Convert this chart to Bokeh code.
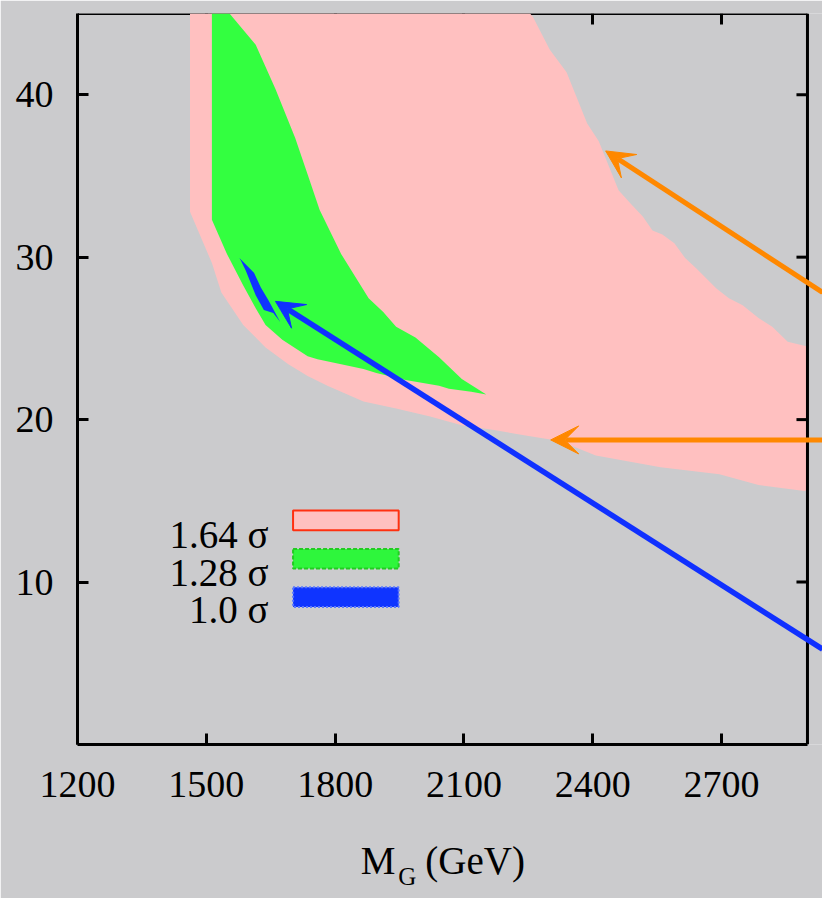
import math
from bokeh.plotting import figure
from bokeh.models import FixedTicker, LinearAxis, Range1d, Arrow, VeeHead
from bokeh.core.properties import value
from bokeh.embed import file_html
from bokeh.resources import INLINE

# ---------------- data ----------------
x_ticks = [1200, 1500, 1800, 2100, 2400, 2700]
y_ticks = [10, 20, 30, 40]
x_min, x_frame_max, x_view_max = 1200, 2900, 2935
y_min, y_max = 0, 45

# 1.64 sigma region (M_G, y)
sig164_x = [1462, 2254, 2261, 2300, 2339, 2387, 2414, 2460, 2489, 2517, 2539, 2562, 2590,
            2615, 2642, 2688, 2717, 2749, 2786, 2818, 2854, 2900, 2900,
            2893, 2786, 2695, 2558, 2407, 2323, 2247, 2170, 2095, 2019, 1942, 1866,
            1782, 1736, 1691, 1638, 1586, 1535, 1513, 1462]
sig164_y = [45.0, 45.0, 44.77, 42.77, 41.38, 38.23, 37.14, 34.12, 33.27, 32.49, 31.64, 31.40, 30.85,
            29.95, 29.28, 28.07, 27.47, 27.04, 26.26, 25.72, 24.80, 24.50, 15.67,
            15.61, 15.97, 16.64, 17.06, 17.79, 18.69, 19.00, 19.36, 19.66, 20.21, 20.69, 21.11,
            22.08, 22.69, 23.41, 24.44, 25.83, 27.83, 29.64, 32.79]

# 1.28 sigma region
sig128_x = [1513, 1554, 1615, 1661, 1707, 1736, 1764, 1814, 1878, 1912, 1942, 1987, 2042, 2095, 2152,
            2117, 2065, 2042, 1964, 1896, 1866, 1814, 1759, 1736, 1677, 1638, 1615, 1586, 1547, 1513]
sig128_y = [45.0, 45.0, 43.07, 40.35, 37.33, 35.09, 32.91, 30.19, 27.47, 26.62, 25.71, 25.05, 23.84, 22.50, 21.54,
            21.72, 21.90, 22.08, 22.44, 22.87, 23.11, 23.41, 23.71, 23.90, 24.92, 25.83, 26.86, 28.25, 30.25, 32.30]

# 1.0 sigma region
sig100_x = [1577, 1611, 1627, 1645, 1672, 1656, 1634, 1615, 1592, 1581]
sig100_y = [29.95, 29.04, 28.13, 27.34, 26.01, 26.56, 26.74, 27.65, 29.16, 29.76]

legend_labels = ["1.64 \u03c3", "1.28 \u03c3", "1.0 \u03c3"]

# x-axis title pieces: "M" + subscript "G" + "(GeV)"
title_main = {1900: "M", 2126: "(GeV)"}
title_sub = {1968: "G"}

# annotation arrows: (x_start, y_start, x_end, y_end)
arrow_orange_1 = [2935, 27.83, 2430, 36.54]
arrow_orange_2 = [2935, 18.75, 2302, 18.75]
arrow_blue = [2935, 5.87, 1661, 27.28]

# ---------------- style ----------------
BG = "#cbcbcd"
PINK = "#ffc0c0"
GREEN = "#33ff40"
BLUE = "#0f34ff"
ORANGE = "#ff8800"
FONT = "Liberation Serif"

p = figure(width=822, height=898, x_range=Range1d(x_min, x_view_max), y_range=Range1d(y_min, y_max),
           output_backend="svg", toolbar_location=None,
           min_border_left=77, min_border_right=0, min_border_top=13, min_border_bottom=154,
           background_fill_color=BG, border_fill_color=BG, outline_line_color=None)
p.xgrid.visible = False
p.ygrid.visible = False

p.patch(sig164_x, sig164_y, fill_color=PINK, line_color=None)
p.patch(sig128_x, sig128_y, fill_color=GREEN, line_color=None)
p.patch(sig100_x, sig100_y, fill_color=BLUE, line_color=None)


def style_axis(ax, show_labels=True):
    ax.axis_line_width = 3
    ax.axis_line_color = "black"
    ax.major_tick_line_width = 3
    ax.major_tick_line_color = "black"
    ax.major_tick_in = 11
    ax.major_tick_out = 0
    ax.minor_tick_line_color = None
    ax.major_label_text_font = FONT
    if show_labels:
        ax.major_label_text_font_size = "38px"
        ax.major_label_text_color = "black"
    else:
        ax.major_label_text_font_size = "1px"
        ax.major_label_text_color = None
        ax.major_label_standoff = 0


p.xaxis.ticker = FixedTicker(ticks=x_ticks)
p.yaxis.ticker = FixedTicker(ticks=y_ticks)
style_axis(p.xaxis[0])
style_axis(p.yaxis[0])
p.xaxis.bounds = (x_min, x_frame_max)
p.xaxis.major_label_standoff = 27
p.yaxis.major_label_standoff = 24

top_ax = LinearAxis(ticker=FixedTicker(ticks=x_ticks), bounds=(x_min, x_frame_max))
style_axis(top_ax, False)
top_ax.level = "underlay"
p.add_layout(top_ax, "above")


def title_axis(labels, size, standoff):
    ax = LinearAxis(ticker=FixedTicker(ticks=list(labels.keys())), major_label_overrides=labels)
    ax.axis_line_color = None
    ax.major_tick_line_color = None
    ax.minor_tick_line_color = None
    ax.major_tick_in = 0
    ax.major_tick_out = 0
    ax.major_label_text_font = FONT
    ax.major_label_text_font_size = size
    ax.major_label_text_color = "black"
    ax.major_label_standoff = standoff
    return ax


p.add_layout(title_axis(title_main, "39px", 39), "below")
p.add_layout(title_axis(title_sub, "25px", -22), "below")

# right frame edge with inward ticks
p.segment(x0=[x_frame_max], y0=[y_min], x1=[x_frame_max], y1=[y_max], line_color="black", line_width=3)
p.ray(x=[x_frame_max] * len(y_ticks), y=y_ticks, length=11, length_units="screen", angle=math.pi,
      line_color="black", line_width=3)

# legend (drawn manually: labels left of swatches)
leg_left, leg_right = 1702, 1948
leg_tops = [14.40, 12.04, 9.68]
leg_bots = [13.19, 10.83, 8.47]
leg_text_y = [12.95, 10.59, 8.29]
p.quad(left=leg_left, right=leg_right, top=leg_tops[0], bottom=leg_bots[0],
       fill_color=PINK, line_color="#ff3010", line_width=2)
p.quad(left=leg_left, right=leg_right, top=leg_tops[1], bottom=leg_bots[1],
       fill_color="#2ef63c", line_color="#22cc22", line_width=2, line_dash="4 2")
p.quad(left=leg_left, right=leg_right, top=leg_tops[2], bottom=leg_bots[2],
       fill_color=BLUE, line_color="#5a78ff", line_width=2, line_dash="2 2")
p.text(x=[1645] * 3, y=leg_text_y, text=legend_labels, text_font=value(FONT),
       text_font_size=value("39px"), text_align="right", text_baseline="alphabetic",
       text_color="black")

# arrows
for arr, col, lw in [(arrow_orange_1, ORANGE, 5), (arrow_orange_2, ORANGE, 5), (arrow_blue, "#1030ff", 5.5)]:
    p.add_layout(Arrow(x_start=arr[0], y_start=arr[1], x_end=arr[2], y_end=arr[3],
                       line_color=col, line_width=lw,
                       end=VeeHead(size=28, fill_color=col, line_color=col, line_width=1)))

open("out.html", "w").write(file_html(p, INLINE))
